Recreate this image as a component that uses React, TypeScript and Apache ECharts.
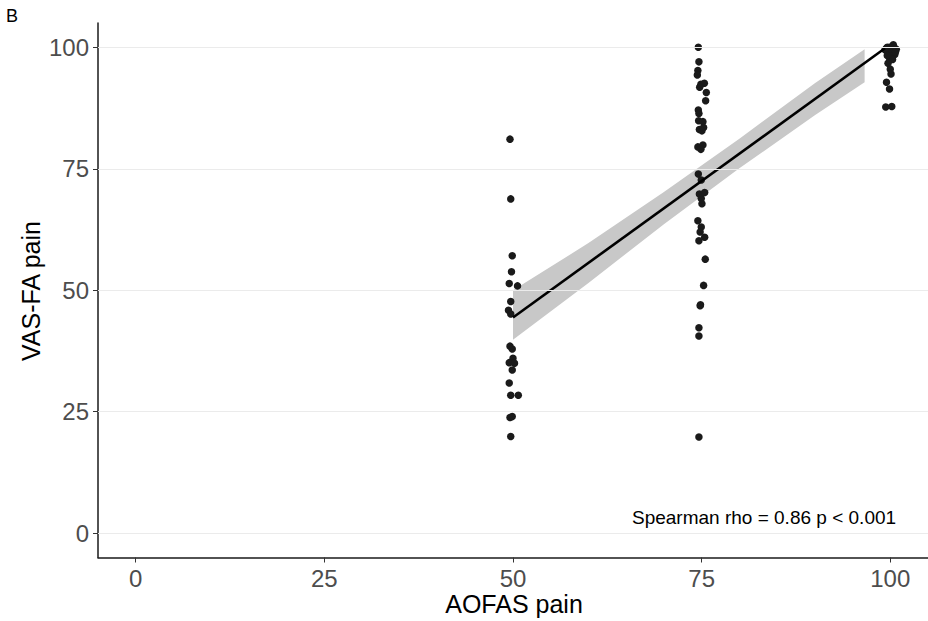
import { useEffect, useRef } from "react";
import * as echarts from "echarts";

const xTicks = [0, 25, 50, 75, 100];
const yTicks = [0, 25, 50, 75, 100];

// AOFAS pain = 50 group (jittered x, VAS-FA pain)
const g50X = [49.6, 49.7, 49.9, 49.8, 49.5, 50.6, 49.7, 49.4, 49.7, 49.6, 49.9, 50.0, 49.5, 50.2, 49.9, 49.5, 49.7, 50.7, 49.6, 49.9, 49.7];
const g50Y = [81.1, 68.8, 57.1, 53.8, 51.4, 50.9, 47.7, 45.9, 45.1, 38.5, 37.9, 36.0, 35.1, 35.0, 33.6, 30.9, 28.4, 28.4, 23.8, 24.0, 19.9];

// AOFAS pain = 75 group
const g75X = [74.56, 74.64, 74.5, 74.43, 74.9, 75.36, 74.74, 75.62, 75.53, 74.56, 74.64, 74.6, 75.17, 74.7, 75.04, 75.26, 74.5, 75.17, 74.9, 74.56, 74.95, 74.7, 75.4, 74.95, 75.04, 74.5, 74.95, 75.4, 74.64, 74.8, 75.48, 75.26, 74.85, 74.8, 74.64, 74.64, 74.64];
const g75Y = [100.0, 97.0, 95.2, 94.3, 92.4, 92.6, 91.8, 90.7, 89.0, 87.1, 86.4, 84.9, 84.7, 83.1, 82.8, 83.5, 79.5, 79.9, 79.0, 73.9, 72.7, 69.8, 70.1, 68.9, 67.8, 64.3, 63.0, 60.9, 60.2, 62.0, 56.4, 51.0, 47.0, 46.8, 42.3, 40.6, 19.8];

// AOFAS pain = 100 group
const g100X = [99.6, 99.9, 100.2, 100.5, 99.5, 100.8, 99.8, 100.3, 100.0, 99.7, 100.6, 100.1, 99.9, 100.3, 99.7, 100.0, 100.1, 99.5, 99.9, 99.4, 100.2, 99.3, 100.7, 99.6, 100.4];
const g100Y = [100.0, 100.0, 100.0, 100.0, 99.8, 99.6, 99.4, 99.2, 99.0, 98.8, 98.5, 98.2, 97.8, 97.5, 96.7, 95.5, 94.5, 92.8, 91.4, 87.7, 87.8, 99.5, 99.1, 98.3, 100.5];

// Linear fit with confidence band
const fitX = [50, 99.3];
const fitY = [44.4, 99.8];
const bandX = [50, 60, 70, 80, 90, 96.6];
const bandLow = [39.8, 51.5, 63.6, 75.1, 86.0, 92.8];
const bandHigh = [50.0, 59.7, 70.2, 81.2, 92.6, 99.6];

const FONT = "Liberation Sans, Arial, Helvetica, sans-serif";

export default function App() {
  const ref = useRef<HTMLDivElement>(null);
  useEffect(() => {
    if (!ref.current) return;
    const chart = echarts.init(ref.current, null, { renderer: "svg" });
    const pts = [
      ...g50X.map((x, i) => [x, g50Y[i]]),
      ...g75X.map((x, i) => [x, g75Y[i]]),
      ...g100X.map((x, i) => [x, g100Y[i]]),
    ];
    chart.setOption({
      animation: false,
      backgroundColor: "#ffffff",
      textStyle: { fontFamily: FONT },
      grid: { left: 98, top: 23, width: 832, height: 534.5, containLabel: false },
      xAxis: {
        type: "value",
        min: -5,
        max: 105,
        axisLine: { show: true, onZero: false, lineStyle: { color: "#1a1a1a", width: 1.5 } },
        axisTick: { show: true, customValues: xTicks, length: 5, lineStyle: { color: "#333333", width: 1 } },
        axisLabel: { customValues: xTicks, color: "#4d4d4d", fontSize: 24, margin: 9, fontFamily: FONT },
        splitLine: { show: false },
      },
      yAxis: {
        type: "value",
        min: -5,
        max: 105,
        axisLine: { show: true, onZero: false, lineStyle: { color: "#1a1a1a", width: 1.5 } },
        axisTick: { show: true, customValues: yTicks, length: 5, lineStyle: { color: "#333333", width: 1 } },
        axisLabel: { customValues: yTicks, color: "#4d4d4d", fontSize: 24, margin: 9, fontFamily: FONT },
        splitLine: { show: false },
      },
      graphic: [
        { type: "text", left: 6, top: 7, style: { text: "B", font: `18px ${FONT}`, fill: "#000" } },
        {
          type: "text",
          x: 514,
          y: 604,
          style: { text: "AOFAS pain", font: `25px ${FONT}`, fill: "#000", textAlign: "center", textVerticalAlign: "middle" },
        },
        {
          type: "text",
          x: 31,
          y: 291,
          rotation: Math.PI / 2,
          style: { text: "VAS-FA pain", font: `25px ${FONT}`, fill: "#000", textAlign: "center", textVerticalAlign: "middle" },
        },
        {
          type: "text",
          x: 632,
          y: 517,
          style: { text: "Spearman rho = 0.86 p < 0.001", font: `19px ${FONT}`, fill: "#000", textAlign: "left", textVerticalAlign: "middle" },
        },
      ],
      series: [
        {
          type: "line",
          data: [],
          silent: true,
          markLine: {
            silent: true,
            symbol: "none",
            label: { show: false },
            lineStyle: { color: "#ebebeb", width: 1, type: "solid" },
            data: yTicks.map((v) => ({ yAxis: v })),
          },
          z: 1,
        },
        {
          type: "custom",
          silent: true,
          z: 2,
          data: bandX.map((x, i) => [x, bandLow[i], bandHigh[i]]),
          encode: { x: 0, y: [1, 2] },
          renderItem: (params: any, api: any) => {
            if (params.dataIndex !== 0) return null;
            const poly: number[][] = [];
            for (let i = 0; i < bandX.length; i++) poly.push(api.coord([bandX[i], bandHigh[i]]));
            for (let i = bandX.length - 1; i >= 0; i--) poly.push(api.coord([bandX[i], bandLow[i]]));
            return { type: "polygon", shape: { points: poly }, style: { fill: "#c8c8c8" } };
          },
        },
        {
          type: "scatter",
          data: pts,
          symbolSize: 7.5,
          itemStyle: { color: "#1a1a1a", opacity: 1 },
          z: 3,
        },
        {
          type: "line",
          data: fitX.map((x, i) => [x, fitY[i]]),
          showSymbol: false,
          symbol: "none",
          lineStyle: { color: "#000000", width: 2.6 },
          z: 4,
        },
      ],
    });
    return () => chart.dispose();
  }, []);
  return <div ref={ref} style={{ position: "fixed", left: 0, top: 0, width: 928, height: 621 }} />;
}
